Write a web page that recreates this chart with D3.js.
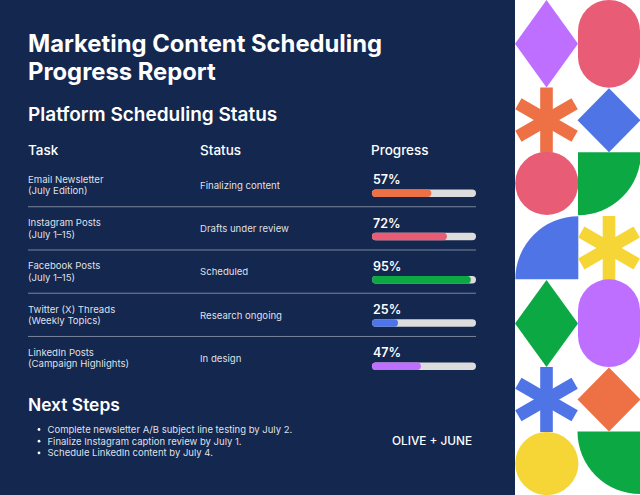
<!DOCTYPE html>
<html>
<head>
<meta charset="utf-8">
<script src="https://cdn.jsdelivr.net/npm/d3@7"></script>
<style>
  html, body { margin: 0; padding: 0; background: #14274f; }
  svg { display: block; }
  text { font-family: "Inter", "Noto Sans", sans-serif; fill: #fff; }
</style>
</head>
<body>
<svg id="chart" width="640" height="495"></svg>
<script>
var titleLines = ["Marketing Content Scheduling", "Progress Report"];
var headers = ["Task", "Status", "Progress"];
var tasks = ["Email Newsletter", "Instagram Posts", "Facebook Posts", "Twitter (X) Threads", "LinkedIn Posts"];
var taskNotes = ["(July Edition)", "(July 1–15)", "(July 1–15)", "(Weekly Topics)", "(Campaign Highlights)"];
var statuses = ["Finalizing content", "Drafts under review", "Scheduled", "Research ongoing", "In design"];
var progress = [57, 72, 95, 25, 47];
var barColors = ["#ee7145", "#e85c75", "#0ba843", "#4f74e6", "#bf6fff"];
var nextSteps = [
  "Complete newsletter A/B subject line testing by July 2.",
  "Finalize Instagram caption review by July 1.",
  "Schedule LinkedIn content by July 4."
];

var svg = d3.select("#chart");

// header text
svg.selectAll(".title").data(titleLines).enter().append("text")
  .attr("class", "title")
  .attr("x", 28)
  .attr("y", function(d, i) { return 51.5 + i * 28.5; })
  .attr("font-size", 23.8)
  .attr("font-weight", 700)
  .text(function(d) { return d; });

svg.append("text").attr("x", 28).attr("y", 120.5)
  .attr("font-size", 19).attr("font-weight", 600)
  .text("Platform Scheduling Status");

var colX = d3.scaleOrdinal().domain(headers).range([28, 200, 371]);
svg.selectAll(".head").data(headers).enter().append("text")
  .attr("class", "head")
  .attr("x", function(d) { return colX(d); })
  .attr("y", 155)
  .attr("font-size", 13.5).attr("font-weight", 500)
  .text(function(d) { return d; });

// table rows
var y = d3.scaleBand().domain(tasks).range([163.5, 379.7]);
var x = d3.scaleLinear().domain([0, 100]).range([372, 476]);

var rows = svg.selectAll(".row").data(tasks).enter().append("g")
  .attr("class", "row")
  .attr("transform", function(d) { return "translate(0," + (y(d) + y.bandwidth() / 2) + ")"; });

rows.append("text").attr("x", 28).attr("y", -2.2)
  .attr("font-size", 9.6).attr("fill-opacity", 0.88)
  .text(function(d) { return d; });
rows.append("text").attr("x", 28).attr("y", 9.2)
  .attr("font-size", 9.6).attr("fill-opacity", 0.88)
  .text(function(d, i) { return taskNotes[i]; });
rows.append("text").attr("x", 200).attr("y", 3.8)
  .attr("font-size", 9.6).attr("fill-opacity", 0.88)
  .text(function(d, i) { return statuses[i]; });

rows.append("text").attr("x", 373).attr("y", -0.8)
  .attr("font-size", 12.5).attr("font-weight", 600)
  .text(function(d, i) { return progress[i] + "%"; });

rows.append("rect")
  .attr("x", x(0)).attr("y", 4.4)
  .attr("width", x(100) - x(0)).attr("height", 7.4).attr("rx", 3.7)
  .attr("fill", "#dcdcdc");
rows.append("rect")
  .attr("x", x(0)).attr("y", 4.4)
  .attr("width", function(d, i) { return x(progress[i]) - x(0); })
  .attr("height", 7.4).attr("rx", 3.7)
  .attr("fill", function(d, i) { return barColors[i]; });

svg.selectAll(".rule").data(tasks.slice(0, -1)).enter().append("line")
  .attr("class", "rule")
  .attr("x1", 28).attr("x2", 476)
  .attr("y1", function(d) { return y(d) + y.bandwidth(); })
  .attr("y2", function(d) { return y(d) + y.bandwidth(); })
  .attr("stroke", "#fff").attr("stroke-opacity", 0.55).attr("stroke-width", 0.8);

// next steps
svg.append("text").attr("x", 28).attr("y", 410.5)
  .attr("font-size", 17.4).attr("font-weight", 600)
  .text("Next Steps");

var steps = svg.selectAll(".step").data(nextSteps).enter().append("g")
  .attr("class", "step")
  .attr("transform", function(d, i) { return "translate(0," + (429.5 + i * 11.7) + ")"; });
steps.append("circle").attr("cx", 39).attr("cy", 0).attr("r", 1.4).attr("fill", "#fff");
steps.append("text").attr("x", 47.5).attr("y", 3.5)
  .attr("font-size", 9.5).attr("fill-opacity", 0.88)
  .text(function(d) { return d; });

svg.append("text").attr("x", 392).attr("y", 445)
  .attr("font-size", 11.8).attr("font-weight", 500)
  .text("OLIVE + JUNE");

// decorative panel
var pink = "#e85c75", purple = "#bf6fff", orange = "#ee7145", blue = "#4f74e6", green = "#0ba843", yellow = "#f6d637";
var panel = svg.append("g");
panel.append("rect").attr("x", 515).attr("y", 0).attr("width", 125).attr("height", 495).attr("fill", "#fff");

function diamond(cx, cy, rx, ry, fill) {
  var p = d3.path();
  p.moveTo(cx, cy - ry); p.lineTo(cx + rx, cy); p.lineTo(cx, cy + ry); p.lineTo(cx - rx, cy); p.closePath();
  panel.append("path").attr("d", p.toString()).attr("fill", fill);
}
function stadium(x0, y0, w, h, fill) {
  panel.append("rect").attr("x", x0).attr("y", y0).attr("width", w).attr("height", h)
    .attr("rx", w / 2).attr("ry", w / 2).attr("fill", fill);
}
function disc(cx, cy, r, fill) {
  panel.append("circle").attr("cx", cx).attr("cy", cy).attr("r", r).attr("fill", fill);
}
function asterisk(cx, cy, r, fill) {
  [0, 60, 120].forEach(function(a) {
    panel.append("rect").attr("x", cx - 6.3).attr("y", cy - r).attr("width", 12.6).attr("height", r * 2)
      .attr("transform", "rotate(" + a + " " + cx + " " + cy + ")").attr("fill", fill);
  });
}
// corner cx,cy is the centre of the quarter circle
function quarter(cx, cy, r, a0, fill) {
  panel.append("path")
    .attr("d", d3.arc().innerRadius(0).outerRadius(r).startAngle(a0).endAngle(a0 + Math.PI / 2)())
    .attr("transform", "translate(" + cx + "," + cy + ")")
    .attr("fill", fill);
}

diamond(546.5, 43.7, 31.5, 43.7, purple);
asterisk(546.5, 120, 32.5, orange);
disc(546.8, 183.3, 31.6, pink);
quarter(578.3, 279.3, 63, -Math.PI / 2, blue);
diamond(546.5, 323.5, 31.5, 43.5, green);
asterisk(546.5, 399.5, 32.5, blue);
disc(546.8, 463.5, 31.6, yellow);

stadium(578, 0, 62, 87.7, pink);
diamond(609, 120.3, 31.5, 32, blue);
quarter(578, 152.3, 63, Math.PI / 2, green);
asterisk(609, 248, 32, yellow);
stadium(578, 279.3, 62, 87.7, purple);
diamond(609, 399.5, 31.5, 32, orange);
quarter(640, 431.5, 62.5, Math.PI, green);
</script>
</body>
</html>
